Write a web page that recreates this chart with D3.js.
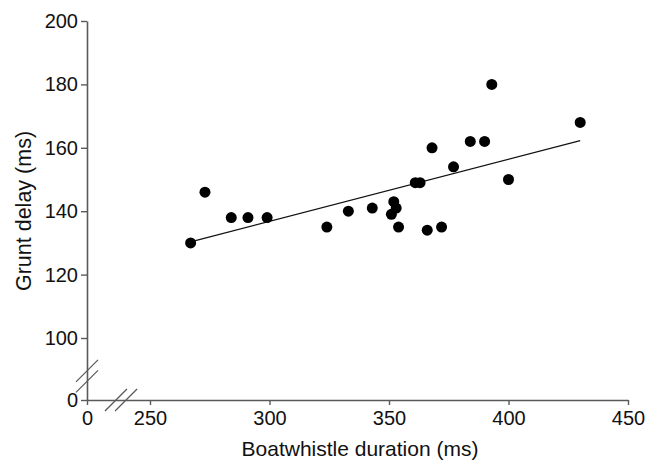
<!DOCTYPE html>
<html lang="en">
<head>
    <meta charset="UTF-8">
    <title>Grunt delay vs boatwhistle duration</title>
    <style>
        body { margin: 0; background: #fff; }
        svg text { font-family: "Liberation Sans", Arial, sans-serif; fill: #111; }
    </style>
</head>
<body>
    <div id="wrapper"></div>
    <script src="https://d3js.org/d3.v7.min.js"></script>
    <script>
        // 資料
        const duration = [267, 273, 284, 291, 299, 324, 333, 343, 351, 352, 353, 354,
            361, 363, 366, 368, 372, 377, 384, 390, 393, 400, 430];
        const gruntDelay = [130, 146, 138, 138, 138, 135, 140, 141, 139, 143, 141, 135,
            149, 149, 134, 160, 135, 154, 162, 162, 180, 150, 168];
        const xTicks = [0, 250, 300, 350, 400, 450];
        const yTicks = [0, 100, 120, 140, 160, 180, 200];

        const width = 646,
            height = 462;
        const axisColor = '#5a5a5a';

        const svg = d3.select('#wrapper').append('svg')
            .attr('width', width)
            .attr('height', height);

        // 斷軸: 0 到 250 / 0 到 100 壓縮
        const x = d3.scaleLinear()
            .domain([0, 250, 450])
            .range([87, 150, 628]);
        const y = d3.scaleLinear()
            .domain([0, 100, 200])
            .range([400, 338, 21]);

        const points = duration.map((d, i) => ({ x: d, y: gruntDelay[i] }));

        // X軸
        const xAxis = d3.axisBottom(x)
            .tickValues(xTicks)
            .tickSizeInner(5)
            .tickSizeOuter(0)
            .tickPadding(6)
            .tickFormat(d3.format('d'));
        const gx = svg.append('g')
            .attr('transform', `translate(0,${y(0)})`)
            .call(xAxis);
        gx.select('.domain').attr('stroke', axisColor).attr('stroke-width', 1.6);
        gx.selectAll('.tick line').attr('stroke', axisColor).attr('stroke-width', 1.4);
        gx.selectAll('.tick text').style('font-size', '20px').attr('fill', '#111');

        // Y軸
        const yAxis = d3.axisLeft(y)
            .tickValues(yTicks)
            .tickSizeInner(6)
            .tickSizeOuter(0)
            .tickPadding(3)
            .tickFormat(d3.format('d'));
        const gy = svg.append('g')
            .attr('transform', `translate(${x(0)},0)`)
            .call(yAxis);
        gy.select('.domain').attr('stroke', axisColor).attr('stroke-width', 1.6);
        gy.selectAll('.tick line').attr('stroke', axisColor).attr('stroke-width', 1.4);
        gy.selectAll('.tick text').style('font-size', '20px').attr('fill', '#111');

        // 斷軸記號 (軸線不斷開, 只畫兩條斜線)
        const yb = [y(30), y(47)];
        const xb = [x(115), x(155)];
        yb.forEach(c => {
            svg.append('line')
                .attr('x1', x(0) - 11).attr('y1', c + 11)
                .attr('x2', x(0) + 11).attr('y2', c - 11)
                .attr('stroke', axisColor).attr('stroke-width', 1.3);
        });
        xb.forEach(c => {
            svg.append('line')
                .attr('x1', c - 11).attr('y1', y(0) + 11)
                .attr('x2', c + 11).attr('y2', y(0) - 11)
                .attr('stroke', axisColor).attr('stroke-width', 1.3);
        });

        // 迴歸線 (最小平方法)
        const mx = d3.mean(duration),
            my = d3.mean(gruntDelay);
        const slope = d3.sum(points, d => (d.x - mx) * (d.y - my)) /
            d3.sum(points, d => (d.x - mx) ** 2);
        const icpt = my - slope * mx;
        const [x0, x1] = d3.extent(duration);
        svg.append('line')
            .attr('x1', x(x0)).attr('y1', y(icpt + slope * x0))
            .attr('x2', x(x1)).attr('y2', y(icpt + slope * x1))
            .attr('stroke', '#111').attr('stroke-width', 1.3);

        // 散佈點
        svg.append('g').selectAll('circle')
            .data(points)
            .join('circle')
            .attr('cx', d => x(d.x))
            .attr('cy', d => y(d.y))
            .attr('r', 5.5)
            .attr('fill', '#000');

        // 軸標題
        svg.append('text')
            .attr('x', 360).attr('y', 456)
            .attr('text-anchor', 'middle')
            .style('font-size', '21px')
            .text('Boatwhistle duration (ms)');
        svg.append('text')
            .attr('transform', `translate(31,211) rotate(-90)`)
            .attr('text-anchor', 'middle')
            .style('font-size', '21.5px')
            .text('Grunt delay (ms)');
    </script>
</body>
</html>
